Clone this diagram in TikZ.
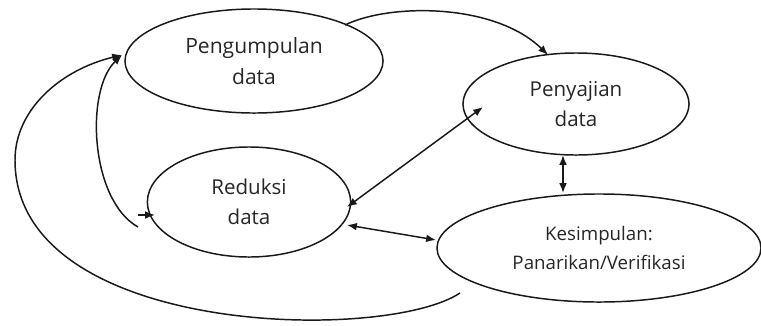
\documentclass[tikz,border=0pt]{standalone}
\usepackage{fontspec}
\setmainfont{Open Sans}
\usetikzlibrary{shapes.geometric,arrows.meta}
\begin{document}
\begin{tikzpicture}[x=0.025cm,y=0.025cm,
  stage/.style={draw=black!90, line width=1.05pt, ellipse, inner sep=0pt, align=center, text=black!85},
  conn/.style={draw=black!90, line width=1.05pt},
  tip/.style={-{Latex[length=7pt,width=5.5pt]}},
  both/.style={{Latex[length=7pt,width=5.5pt]}-{Latex[length=7pt,width=5.5pt]}}]
\useasboundingbox (0,0) rectangle (761,325);
\node[stage, minimum width=6.45cm, minimum height=2.6cm, font=\fontsize{15}{22}\selectfont] (P) at (254,264) {Pengumpulan\\data};
\node[stage, minimum width=5.08cm, minimum height=2.75cm, font=\fontsize{14.6}{21}\selectfont] (R) at (249,123) {Reduksi\\data};
\node[stage, minimum width=5.65cm, minimum height=2.55cm, font=\fontsize{14.6}{21}\selectfont] (S) at (576,221) {Penyajian\\data};
\node[stage, minimum width=8.1cm, minimum height=2.7cm, font=\fontsize{13.3}{20.5}\selectfont] (K) at (599,77) {Kesimpulan:\\Panarikan/Verifikasi};
% collection -> display
\draw[conn, tip] ([shift={(91,36)}]P.center) .. controls (390,322) and (495,322) .. ([shift={(-28,49)}]S.center);
% reduction <-> display
\draw[conn, both] ([shift={(98,-5)}]R.center) -- ([shift={(-93,-3)}]S.center);
% reduction <-> conclusion
\draw[conn, both] ([shift={(98,-23)}]R.center) -- ([shift={(-163,8)}]K.center);
% display <-> conclusion
\draw[conn, both] ([shift={(-13,-51)}]S.center) -- ([shift={(-36,55)}]K.center);
% inner loop
\coordinate (i0) at (138,98);
\draw[conn, tip] (i0) .. controls (90,125) and (85,235) .. ([shift={(-132,6)}]P.center);
% small arrow into reduction
\coordinate (s0) at (138,110);
\draw[conn, tip] (s0) -- ([shift={(-94,-13)}]R.center);
% outer loop
\coordinate (o0) at (460,32);
\draw[conn, tip] (o0) .. controls (385,-18) and (15,-12) .. (15,165) .. controls (15,215) and (60,255) .. ([shift={(-132,6)}]P.center);
\end{tikzpicture}
\end{document}
